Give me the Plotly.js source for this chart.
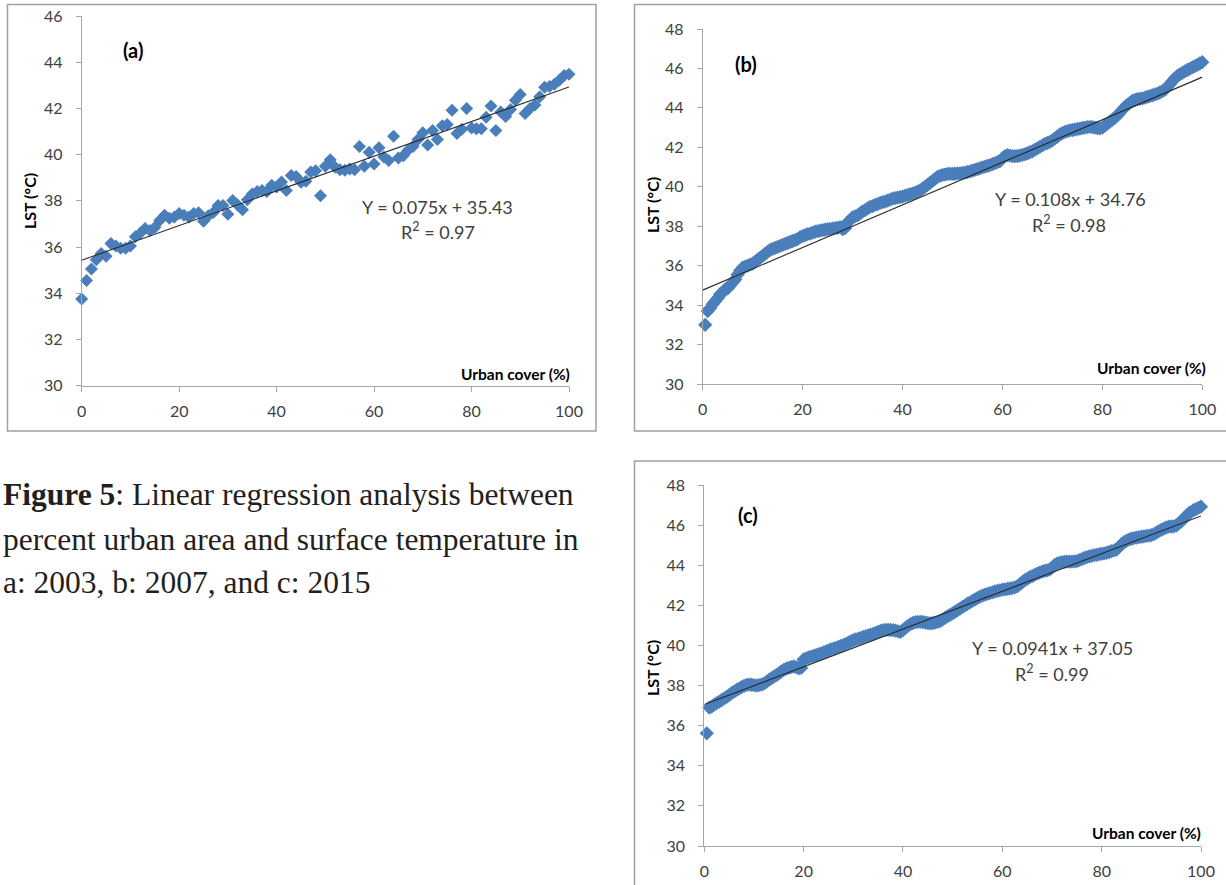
<!DOCTYPE html>
<html>
<head>
<meta charset="utf-8">
<script src="https://cdn.plot.ly/plotly-3.0.1.min.js"></script>
<style>
html,body{margin:0;padding:0;background:#fff;}
#chart{width:1226px;height:885px;}
</style>
</head>
<body>
<div id="chart"></div>
<script>
// ---------------- DATA ----------------
// Panel (a) 2003: urban cover 0..100 (step 1)
const urbanA0 = 0, urbanAStep = 1;
const lstA = [
 33.75, 34.55, 35.05, 35.45, 35.72, 35.60, 36.15, 36.05, 35.95, 35.95,
 36.05, 36.45, 36.60, 36.80, 36.72, 36.85, 37.15, 37.38, 37.25, 37.30,
 37.45, 37.38, 37.30, 37.45, 37.48, 37.12, 37.35, 37.50, 37.80, 37.80,
 37.42, 38.02, 37.82, 37.62, 38.05, 38.30, 38.40, 38.45, 38.40, 38.68,
 38.60, 38.82, 38.45, 39.10, 39.05, 38.80, 38.85, 39.25, 39.30, 38.22,
 39.50, 39.78, 39.45, 39.35, 39.32, 39.38, 39.35, 40.35, 39.50, 40.10,
 39.60, 40.30, 39.90, 39.75, 40.80, 39.85, 39.95, 40.20, 40.35, 40.65,
 40.95, 40.42, 41.05, 40.65, 41.25, 41.30, 41.92, 40.92, 41.10, 42.00,
 41.15, 41.12, 41.12, 41.62, 42.10, 41.05, 41.85, 41.65, 41.95, 42.35,
 42.60, 41.78, 42.00, 42.15, 42.50, 42.92, 42.95, 43.05, 43.22, 43.42,
 43.48
];
// Panel (b) 2007: urban cover 0.5..100 (step 0.5)
const urbanB0 = 0.5, urbanBStep = 0.5;
const lstB = [
 33.00, 33.70, 33.85, 34.05, 34.20, 34.35, 34.55, 34.65, 34.80, 34.85,
 35.00, 35.15, 35.30, 35.55, 35.75, 35.90, 35.95, 36.00, 36.05, 36.10,
 36.20, 36.30, 36.40, 36.50, 36.60, 36.70, 36.80, 36.85, 36.90, 36.95,
 37.00, 37.05, 37.10, 37.15, 37.20, 37.25, 37.30, 37.35, 37.45, 37.50,
 37.55, 37.60, 37.62, 37.68, 37.72, 37.75, 37.78, 37.80, 37.82, 37.85,
 37.86, 37.88, 37.90, 37.92, 37.95, 37.85, 37.90, 38.20, 38.30, 38.45,
 38.50, 38.55, 38.65, 38.75, 38.82, 38.90, 38.98, 39.02, 39.08, 39.12,
 39.18, 39.22, 39.25, 39.30, 39.35, 39.40, 39.42, 39.45, 39.48, 39.50,
 39.55, 39.58, 39.62, 39.65, 39.70, 39.75, 39.82, 39.90, 40.00, 40.10,
 40.20, 40.30, 40.40, 40.50, 40.55, 40.60, 40.62, 40.65, 40.66, 40.65,
 40.66, 40.68, 40.68, 40.70, 40.72, 40.75, 40.78, 40.82, 40.86, 40.90,
 40.94, 40.98, 41.02, 41.06, 41.10, 41.15, 41.20, 41.25, 41.30, 41.45,
 41.55, 41.60, 41.58, 41.55, 41.55, 41.56, 41.58, 41.62, 41.66, 41.70,
 41.75, 41.80, 41.88, 41.95, 42.02, 42.10, 42.18, 42.22, 42.28, 42.35,
 42.45, 42.55, 42.65, 42.72, 42.78, 42.82, 42.86, 42.88, 42.90, 42.93,
 42.95, 42.98, 43.00, 43.02, 43.04, 43.02, 43.00, 42.98, 42.96, 43.00,
 43.10, 43.20, 43.30, 43.40, 43.50, 43.62, 43.75, 43.90, 44.05, 44.15,
 44.25, 44.35, 44.40, 44.44, 44.46, 44.48, 44.52, 44.56, 44.60, 44.64,
 44.68, 44.72, 44.78, 44.85, 44.92, 45.05, 45.20, 45.35, 45.50, 45.62,
 45.70, 45.78, 45.85, 45.92, 45.98, 46.05, 46.12, 46.18, 46.25, 46.32
];
// Panel (c) 2015: urban cover 0.5..100 (step 0.5)
const urbanC0 = 0.5, urbanCStep = 0.5;
const lstC = [
 35.62, 36.90, 36.95, 37.05, 37.12, 37.20, 37.28, 37.36, 37.44, 37.52,
 37.62, 37.70, 37.78, 37.85, 37.92, 37.98, 38.03, 38.05, 38.04, 38.02,
 38.00, 38.02, 38.05, 38.10, 38.18, 38.28, 38.36, 38.44, 38.52, 38.60,
 38.70, 38.78, 38.84, 38.88, 38.92, 38.95, 38.92, 38.86, 38.88, 39.30,
 39.36, 39.40, 39.44, 39.48, 39.52, 39.56, 39.60, 39.65, 39.70, 39.75,
 39.80, 39.84, 39.88, 39.93, 39.98, 40.02, 40.08, 40.14, 40.20, 40.26,
 40.30, 40.34, 40.38, 40.42, 40.46, 40.50, 40.54, 40.58, 40.63, 40.68,
 40.72, 40.76, 40.78, 40.78, 40.77, 40.76, 40.74, 40.70, 40.68, 40.76,
 40.88, 40.98, 41.06, 41.12, 41.16, 41.18, 41.18, 41.17, 41.14, 41.12,
 41.10, 41.12, 41.14, 41.18, 41.22, 41.30, 41.38, 41.46, 41.52, 41.60,
 41.68, 41.76, 41.84, 41.92, 42.00, 42.08, 42.15, 42.22, 42.30, 42.36,
 42.43, 42.48, 42.53, 42.57, 42.61, 42.65, 42.69, 42.72, 42.75, 42.78,
 42.80, 42.82, 42.84, 42.86, 42.90, 42.95, 43.05, 43.15, 43.25, 43.32,
 43.40, 43.46, 43.52, 43.58, 43.63, 43.68, 43.72, 43.74, 43.78, 43.88,
 44.00, 44.08, 44.12, 44.15, 44.17, 44.18, 44.18, 44.18, 44.19, 44.20,
 44.25, 44.30, 44.36, 44.40, 44.44, 44.47, 44.50, 44.52, 44.55, 44.57,
 44.59, 44.62, 44.66, 44.70, 44.74, 44.78, 44.90, 45.05, 45.15, 45.22,
 45.28, 45.32, 45.35, 45.38, 45.40, 45.42, 45.44, 45.46, 45.48, 45.50,
 45.55, 45.62, 45.70, 45.76, 45.82, 45.88, 45.92, 45.93, 45.94, 45.98,
 46.08, 46.18, 46.30, 46.45, 46.58, 46.66, 46.74, 46.80, 46.86, 46.92
];
// Regression results (slope, intercept, R2)
const fitA = {slope: 0.075,  intercept: 35.43, r2: '0.97', eq: 'Y = 0.075x + 35.43'};
const fitB = {slope: 0.108,  intercept: 34.76, r2: '0.98', eq: 'Y = 0.108x + 34.76'};
const fitC = {slope: 0.0941, intercept: 37.05, r2: '0.99', eq: 'Y = 0.0941x + 37.05'};
const xRange = [0, 100];
const yTicksA = [30, 46], yTicksBC = [30, 48];
const panelLabels = ['(a)', '(b)', '(c)'];
const xTitle = 'Urban cover (%)';
const yTitle = 'LST (°C)';
const captionLines = [
  '<b>Figure 5</b>: Linear regression analysis between',
  'percent urban area and surface temperature in',
  'a: 2003, b: 2007, and c: 2015'
];

// ---------------- STYLE / LAYOUT ----------------
const W = 1226, H = 885;
const P = px => px / W;
const Q = py => 1 - py / H;
const BLUE = '#4a7ebb';
const FONT = 'Lato, "Open Sans", sans-serif';
const TXT = '#404040';

function scatterTrace(y, x0, dx, xa, ya, size) {
  return {type: 'scatter', mode: 'markers', y: y, x0: x0, dx: dx,
    xaxis: xa, yaxis: ya, cliponaxis: false, hoverinfo: 'skip',
    marker: {symbol: 'diamond', size: size, color: BLUE, line: {width: 0}}};
}
function fitTrace(fit, xa, ya) {
  return {type: 'scatter', mode: 'lines', x: xRange,
    y: xRange.map(v => fit.intercept + fit.slope * v),
    xaxis: xa, yaxis: ya, hoverinfo: 'skip',
    line: {color: '#2a2a2a', width: 1.1}};
}

const data = [
  scatterTrace(lstA, urbanA0, urbanAStep, 'x', 'y', 10), fitTrace(fitA, 'x', 'y'),
  scatterTrace(lstB, urbanB0, urbanBStep, 'x2', 'y2', 11), fitTrace(fitB, 'x2', 'y2'),
  scatterTrace(lstC, urbanC0, urbanCStep, 'x3', 'y3', 11), fitTrace(fitC, 'x3', 'y3')
];

function xAxis(domain, anchor) {
  return {domain: domain, anchor: anchor, range: xRange, dtick: 20, tick0: 0,
    showgrid: false, zeroline: false, showline: true, linecolor: '#a6a6a6', linewidth: 1,
    ticks: 'outside', ticklen: 5, tickcolor: '#a6a6a6', ticklabelstandoff: 6,
    tickfont: {family: FONT, size: 16, color: TXT}, fixedrange: true};
}
function yAxis(domain, anchor, range) {
  return {domain: domain, anchor: anchor, range: range, dtick: 2, tick0: 30,
    showgrid: false, zeroline: false, showline: true, linecolor: '#a6a6a6', linewidth: 1,
    ticks: 'outside', ticklen: 5, tickcolor: '#a6a6a6', ticklabelstandoff: 10,
    tickfont: {family: FONT, size: 16, color: TXT}, fixedrange: true};
}

const ann = [];
function txt(text, x, y, opts) {
  ann.push(Object.assign({text: text, x: P(x), y: Q(y), xref: 'paper', yref: 'paper',
    showarrow: false, xanchor: 'center', yanchor: 'middle',
    font: {family: FONT, size: 18, color: TXT}}, opts || {}));
}
const labFont = {family: FONT, size: 20, color: '#000', weight: 'bold'};
const xtFont = {family: FONT, size: 15.5, color: '#000', weight: 'bold'};
const ytFont = {family: FONT, size: 16, color: '#000', weight: 'bold'};
// panel (a)
txt(panelLabels[0], 133, 50, {font: labFont});
txt(fitA.eq, 437, 207);
txt('R<sup>2</sup> = ' + fitA.r2, 438, 231);
txt(xTitle, 572, 374, {xanchor: 'right', font: xtFont});
txt(yTitle, 30, 201, {textangle: -90, font: ytFont});
// panel (b)
txt(panelLabels[1], 746, 64, {font: labFont});
txt(fitB.eq, 1070, 199);
txt('R<sup>2</sup> = ' + fitB.r2, 1069, 224);
txt(xTitle, 1208, 368, {xanchor: 'right', font: xtFont});
txt(yTitle, 653, 205, {textangle: -90, font: ytFont});
// panel (c)
txt(panelLabels[2], 748, 515, {font: labFont});
txt(fitC.eq, 1052, 648);
txt('R<sup>2</sup> = ' + fitC.r2, 1052, 673);
txt(xTitle, 1203, 833, {xanchor: 'right', font: xtFont});
txt(yTitle, 652, 668, {textangle: -90, font: ytFont});
// caption
const capY = [495, 539, 582];
captionLines.forEach((t, i) => txt(t, 1, capY[i], {xanchor: 'left',
  font: {family: '"Liberation Serif", "Times New Roman", serif', size: 31.5, color: '#231f20'}}));

const boxLine = {color: '#a0a0a0', width: 1.5};
const shapes = [
  {type: 'rect', xref: 'paper', yref: 'paper', x0: P(7.5), x1: P(596), y0: Q(431), y1: Q(4.5), line: boxLine},
  {type: 'rect', xref: 'paper', yref: 'paper', x0: P(634.5), x1: P(1230), y0: Q(431), y1: Q(4.5), line: boxLine},
  {type: 'rect', xref: 'paper', yref: 'paper', x0: P(634.5), x1: P(1230), y0: Q(890), y1: Q(461), line: boxLine}
];

const layout = {
  width: W, height: H, margin: {l: 0, r: 0, t: 0, b: 0},
  paper_bgcolor: '#fff', plot_bgcolor: 'rgba(0,0,0,0)', showlegend: false,
  xaxis:  xAxis([P(81.7), P(569)], 'y'),
  yaxis:  yAxis([Q(385.7), Q(16)], 'x', yTicksA),
  xaxis2: xAxis([P(702.7), P(1202.3)], 'y2'),
  yaxis2: yAxis([Q(384), Q(29)], 'x2', yTicksBC),
  xaxis3: xAxis([P(704.3), P(1201)], 'y3'),
  yaxis3: yAxis([Q(846), Q(485)], 'x3', yTicksBC),
  annotations: ann, shapes: shapes
};
Plotly.newPlot('chart', data, layout, {staticPlot: true, displayModeBar: false});
</script>
</body>
</html>
